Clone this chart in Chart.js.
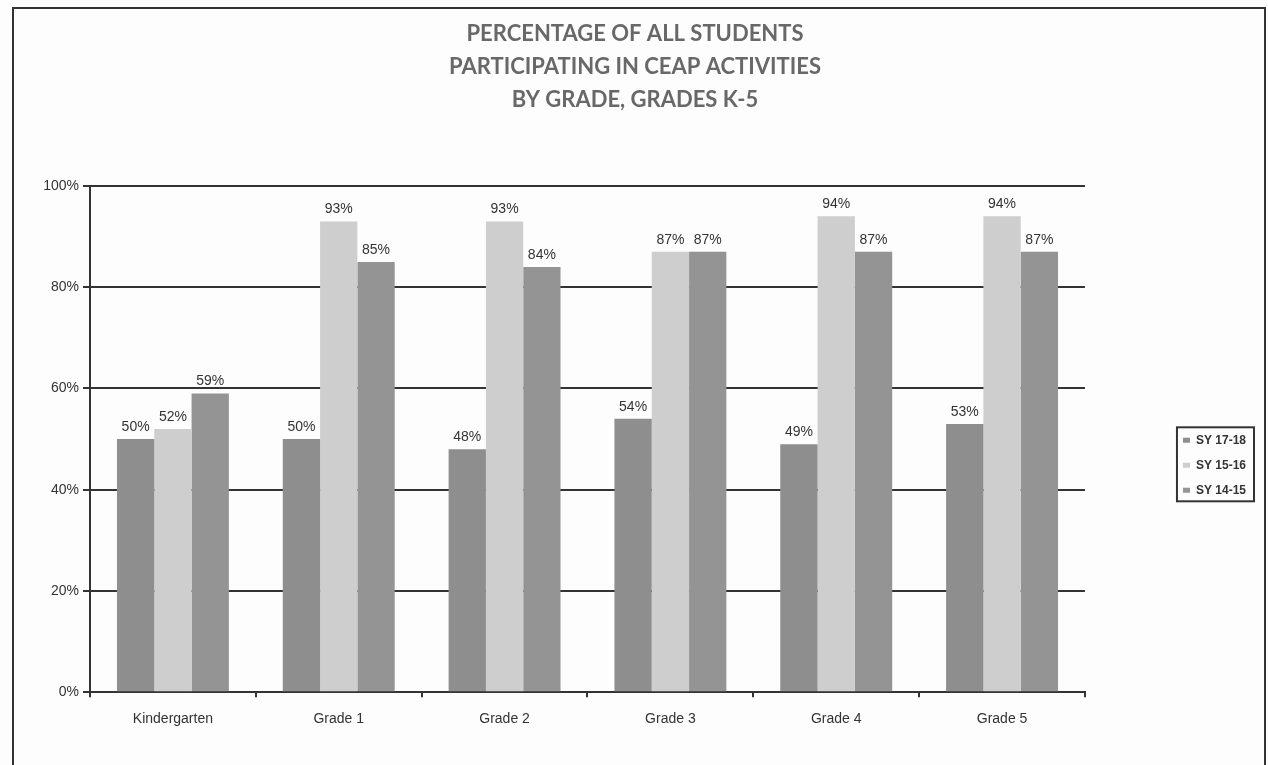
<!DOCTYPE html>
<html lang="en">
<head>
  <meta charset="UTF-8">
  <title>CEAP Participation by Grade</title>
  <script src="https://cdn.jsdelivr.net/npm/chart.js"></script>
  <style>
    html, body {
      margin: 0;
      padding: 0;
      background: #fdfdfd;
      overflow: hidden;
    }

    #frame {
      position: absolute;
      left: 12px;
      top: 7px;
      width: 1250px;
      height: 758px;
      border: 2px solid #333;
      border-bottom: none;
    }
  </style>
</head>
<body>
  <div id="frame">
    <canvas id="barChart" width="1250" height="758"></canvas>
  </div>

  <script>
    const grades = ['Kindergarten', 'Grade 1', 'Grade 2', 'Grade 3', 'Grade 4', 'Grade 5'];
    const sy1718 = [50, 50, 48, 54, 49, 53];
    const sy1516 = [52, 93, 93, 87, 94, 94];
    const sy1415 = [59, 85, 84, 87, 87, 87];
    const yTicks = [0, 20, 40, 60, 80, 100];

    const ink = '#333';
    const sans = '"Liberation Sans", Arial, sans-serif';

    // value labels above each bar
    const valueLabels = {
      id: 'valueLabels',
      afterDatasetsDraw(chart) {
        const ctx = chart.ctx;
        ctx.save();
        ctx.font = '14px ' + sans;
        ctx.fillStyle = ink;
        ctx.textAlign = 'center';
        ctx.textBaseline = 'bottom';
        chart.data.datasets.forEach((ds, i) => {
          chart.getDatasetMeta(i).data.forEach((bar, j) => {
            ctx.fillText(ds.data[j] + '%', bar.x, bar.y - 5);
          });
        });
        ctx.restore();
      }
    };

    // box drawn round the legend entries
    const legendBox = {
      id: 'legendBox',
      afterDraw(chart) {
        const boxes = chart.legend.legendHitBoxes;
        if (!boxes || !boxes.length) return;
        const left = Math.min(...boxes.map(b => b.left)) - 6;
        const right = Math.max(...boxes.map(b => b.left + b.width)) + 8;
        const top = boxes[0].top - 7;
        const bottom = boxes[boxes.length - 1].top + boxes[boxes.length - 1].height + 5;
        const ctx = chart.ctx;
        ctx.save();
        ctx.strokeStyle = ink;
        ctx.lineWidth = 2;
        ctx.strokeRect(left, top, right - left, bottom - top);
        ctx.restore();
      }
    };

    new Chart(document.getElementById('barChart'), {
      type: 'bar',
      data: {
        labels: grades,
        datasets: [
          { label: 'SY 17-18', data: sy1718, backgroundColor: '#8e8e8e' },
          { label: 'SY 15-16', data: sy1516, backgroundColor: '#cecece' },
          { label: 'SY 14-15', data: sy1415, backgroundColor: '#949494' }
        ]
      },
      options: {
        responsive: false,
        animation: false,
        layout: { padding: { left: 0, right: 8, top: 0, bottom: 25 } },
        datasets: {
          bar: { categoryPercentage: 0.675, barPercentage: 1, borderWidth: 0 }
        },
        scales: {
          x: {
            grid: { drawOnChartArea: false, drawTicks: true, tickLength: 5, color: ink, lineWidth: 2, offset: true },
            border: { color: ink, width: 2 },
            ticks: { color: ink, padding: 14, font: { family: sans, size: 14 } }
          },
          y: {
            min: 0,
            max: 100,
            afterBuildTicks: s => { s.ticks = yTicks.map(v => ({ value: v })); },
            afterFit: s => { s.width = 76; },
            grid: { color: ink, lineWidth: 2, tickLength: 7 },
            border: { color: ink, width: 2 },
            ticks: {
              color: ink,
              padding: 4,
              font: { family: sans, size: 14 },
              callback: v => v + '%'
            }
          },
          gap: {
            position: 'right',
            display: true,
            grid: { display: false },
            border: { display: false },
            ticks: { display: false },
            afterFit: s => { s.width = 85; }
          }
        },
        plugins: {
          title: {
            display: true,
            text: ['PERCENTAGE OF ALL STUDENTS', 'PARTICIPATING IN CEAP ACTIVITIES', 'BY GRADE, GRADES K-5'],
            color: '#686868',
            font: { family: 'Lato, "Open Sans", sans-serif', size: 22, weight: 'bold', lineHeight: 1.5 },
            padding: { top: 8, bottom: 70 }
          },
          legend: {
            position: 'right',
            fullSize: false,
            title: { display: true, text: ' ', padding: 19, font: { size: 12 } },
            labels: {
              boxWidth: 7,
              boxHeight: 5,
              padding: 13,
              color: ink,
              font: { family: sans, size: 12, weight: 'bold' }
            }
          },
          tooltip: { enabled: false }
        }
      },
      plugins: [valueLabels, legendBox]
    });
  </script>
</body>
</html>
